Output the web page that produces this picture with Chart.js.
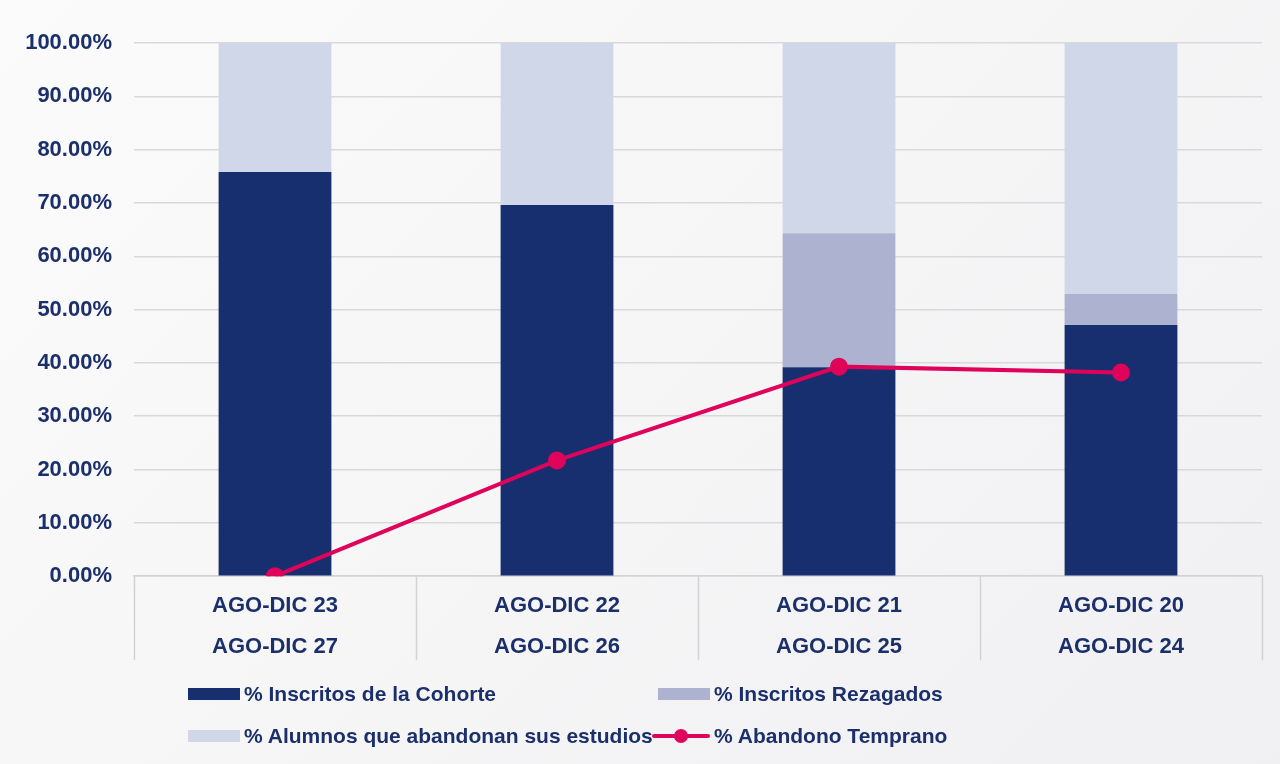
<!DOCTYPE html>
<html>
<head>
<meta charset="utf-8">
<script src="https://cdn.jsdelivr.net/npm/chart.js@4"></script>
<style>
  html, body { margin: 0; padding: 0; background: #f5f5f6; }
  #wrap { position: relative; width: 1280px; height: 764px; overflow: hidden;
    background: linear-gradient(135deg, #fbfbfb 0%, #f5f5f6 55%, #f0f0f3 100%); }
  #chart { position: absolute; left: 0; top: 0; }
  #legend { position: absolute; left: 0; top: 0; width: 1280px; height: 764px; pointer-events: none;
    font-family: "Liberation Sans", Arial, sans-serif; font-weight: bold; font-size: 21px; color: #1b2f6b; }
  .item { position: absolute; display: flex; align-items: center; height: 30px; white-space: nowrap; }
  .mark { width: 58px; height: 30px; position: relative; margin-right: 4px; }
  .box { position: absolute; right: 0; top: 9px; width: 52px; height: 12px; }
  .ln { position: absolute; left: 0; right: 0; top: 13px; height: 4px; border-radius: 2px; }
  .dot { position: absolute; left: 22px; top: 8px; width: 14px; height: 14px; border-radius: 50%; }
</style>
</head>
<body>
<div id="wrap">
  <canvas id="chart" width="1280" height="764"></canvas>
  <div id="legend"></div>
</div>
<script>
document.addEventListener("DOMContentLoaded", function () {
if (typeof Chart === 'undefined') {
  console.error('Chart.js is not loaded.');
  return;
}

// categories (two lines each)
const periodos = [
  ['AGO-DIC 23', 'AGO-DIC 27'],
  ['AGO-DIC 22', 'AGO-DIC 26'],
  ['AGO-DIC 21', 'AGO-DIC 25'],
  ['AGO-DIC 20', 'AGO-DIC 24']
];

// series values (percent)
const inscritosCohorte = [75.8, 69.6, 39.2, 47.1];
const inscritosRezagados = [0, 0, 25.1, 5.8];
const alumnosAbandonan = [24.2, 30.4, 35.7, 47.1];
const abandonoTemprano = [0, 21.7, 39.3, 38.2];

const serieNames = [
  '% Inscritos de la Cohorte',
  '% Inscritos Rezagados',
  '% Alumnos que abandonan sus estudios',
  '% Abandono Temprano'
];

const navy = '#182f6f';
const lila = '#aeb2d1';
const celeste = '#cfd7e9';
const rosa = '#e0035a';
const textColor = '#1b2f6b';
const lineGrey = '#d3d3d6';
const fontFamily = '"Liberation Sans", Arial, sans-serif';

// dividers under the category axis, like a table row
const axisBoxPlugin = {
  id: 'axisBox',
  afterDraw(chart) {
    const x = chart.scales.x;
    const area = chart.chartArea;
    const c = chart.ctx;
    const half = (x.getPixelForValue(1) - x.getPixelForValue(0)) / 2;
    c.save();
    c.strokeStyle = lineGrey;
    c.lineWidth = 1.5;
    for (let i = 0; i <= periodos.length; i++) {
      const px = Math.round(x.getPixelForValue(i) - half) + 0.5;
      c.beginPath();
      c.moveTo(px, area.bottom);
      c.lineTo(px, area.bottom + 84);
      c.stroke();
    }
    c.restore();
  }
};

const canvas = document.getElementById('chart');
const ctx = canvas.getContext('2d');

const chart = new Chart(ctx, {
  data: {
    labels: periodos,
    datasets: [
      {
        type: 'line',
        label: serieNames[3],
        data: abandonoTemprano,
        borderColor: rosa,
        backgroundColor: rosa,
        borderWidth: 4,
        pointRadius: 7,
        pointHoverRadius: 7,
        tension: 0,
        stack: 'linea',
        order: 0
      },
      {
        type: 'bar',
        label: serieNames[0],
        data: inscritosCohorte,
        backgroundColor: navy,
        stack: 'barras',
        order: 1
      },
      {
        type: 'bar',
        label: serieNames[1],
        data: inscritosRezagados,
        backgroundColor: lila,
        stack: 'barras',
        order: 1
      },
      {
        type: 'bar',
        label: serieNames[2],
        data: alumnosAbandonan,
        backgroundColor: celeste,
        stack: 'barras',
        order: 1
      }
    ]
  },
  options: {
    responsive: false,
    animation: false,
    layout: { padding: { top: 43, right: 18, bottom: 88, left: 0 } },
    datasets: {
      bar: { categoryPercentage: 1, barPercentage: 0.4 }
    },
    plugins: {
      legend: { display: false },
      tooltip: { enabled: false }
    },
    scales: {
      x: {
        stacked: true,
        grid: { display: false, drawTicks: false },
        border: { display: true, color: lineGrey, width: 1.5 },
        ticks: {
          color: textColor,
          font: { family: fontFamily, weight: 'bold', size: 22, lineHeight: 1.86 },
          padding: 9,
          maxRotation: 0,
          autoSkip: false
        }
      },
      y: {
        stacked: true,
        min: 0,
        max: 100,
        afterFit: function (scale) { scale.width = 134; },
        grid: { color: '#d9d9dc', lineWidth: 1.5, drawTicks: false },
        border: { display: false },
        ticks: {
          stepSize: 10,
          padding: 22,
          color: textColor,
          font: { family: fontFamily, weight: 'bold', size: 22 },
          callback: function (v) { return v.toFixed(2) + '%'; }
        }
      }
    }
  },
  plugins: [axisBoxPlugin]
});

// legend laid out in two columns like the original
const legend = document.getElementById('legend');
const legendItems = [
  { name: serieNames[0], color: navy, kind: 'box', left: 182, top: 679 },
  { name: serieNames[1], color: lila, kind: 'box', left: 652, top: 679 },
  { name: serieNames[2], color: celeste, kind: 'box', left: 182, top: 721 },
  { name: serieNames[3], color: rosa, kind: 'line', left: 652, top: 721 }
];
legendItems.forEach(function (it) {
  const div = document.createElement('div');
  div.className = 'item';
  div.style.left = it.left + 'px';
  div.style.top = it.top + 'px';
  const mark = document.createElement('span');
  mark.className = 'mark';
  if (it.kind === 'box') {
    const b = document.createElement('span');
    b.className = 'box';
    b.style.background = it.color;
    mark.appendChild(b);
  } else {
    const l = document.createElement('span');
    l.className = 'ln';
    l.style.background = it.color;
    const d = document.createElement('span');
    d.className = 'dot';
    d.style.background = it.color;
    mark.appendChild(l);
    mark.appendChild(d);
  }
  const txt = document.createElement('span');
  txt.textContent = it.name;
  div.appendChild(mark);
  div.appendChild(txt);
  legend.appendChild(div);
});
});
</script>
</body>
</html>
